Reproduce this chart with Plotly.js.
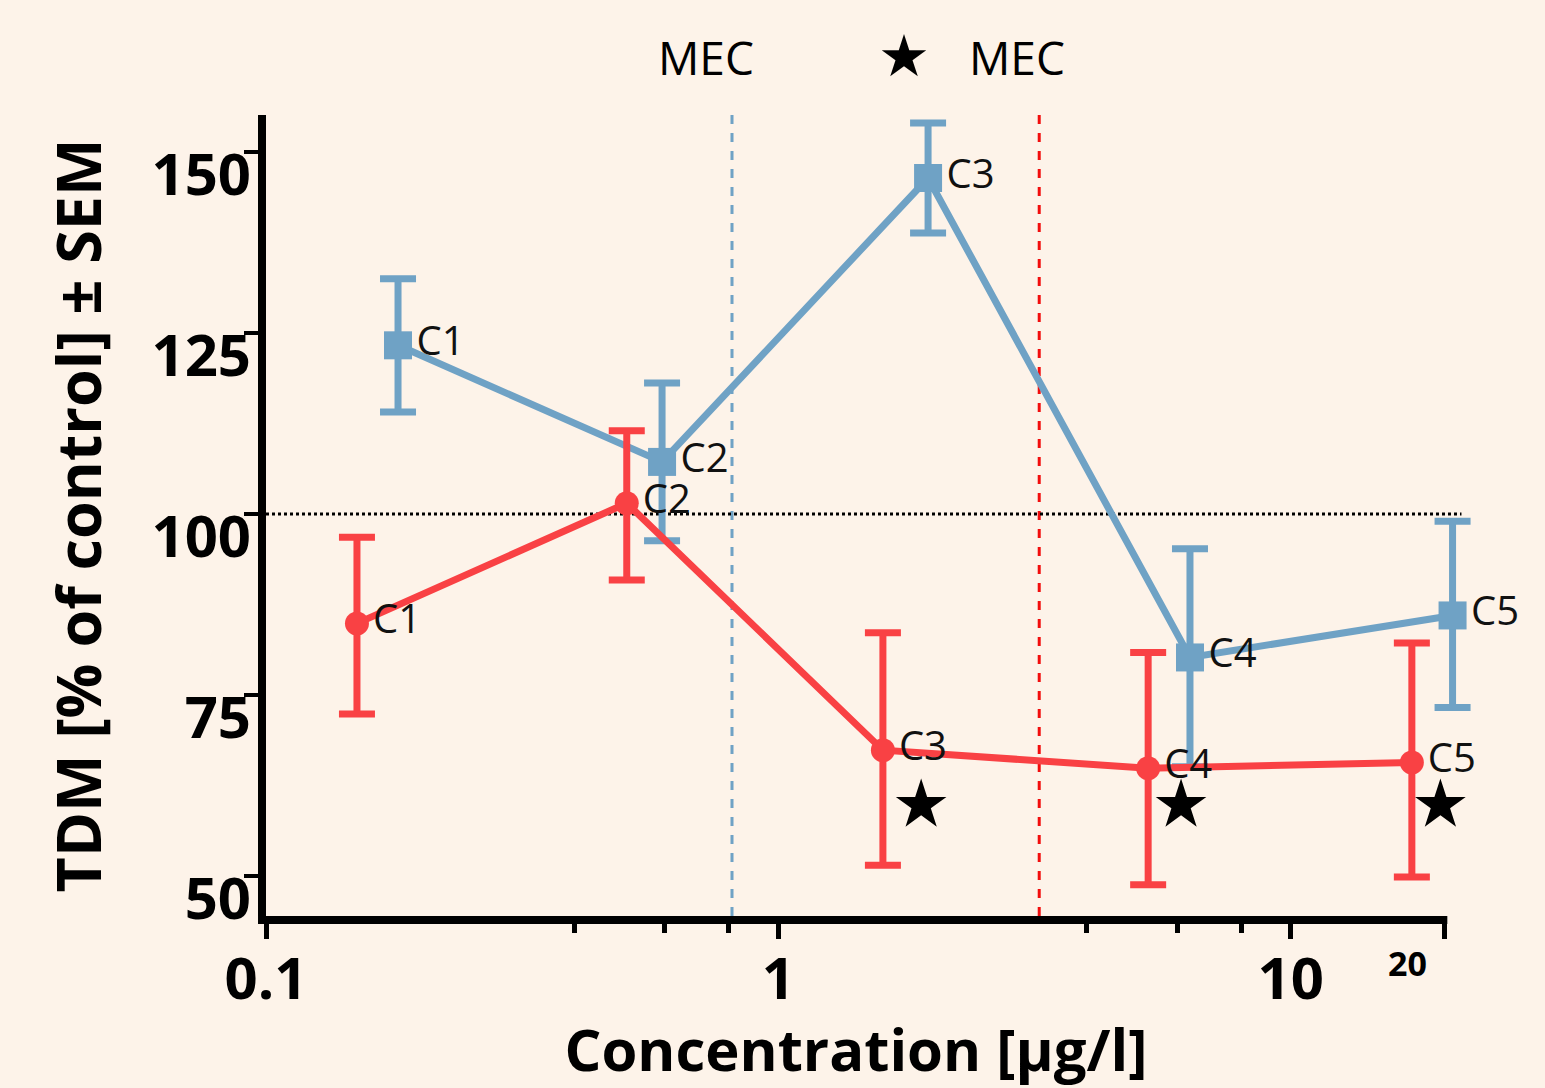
<!DOCTYPE html>
<html>
<head>
<meta charset="utf-8">
<script src="https://cdn.plot.ly/plotly-3.0.1.min.js"></script>
<style>html,body{margin:0;padding:0;background:#FDF3E9;}</style>
</head>
<body>
<div id="chart" style="width:1545px;height:1088px;"></div>
<script>
// ---- data ----
const labels = ["C1", "C2", "C3", "C4", "C5"];

const blueX = [0.181, 0.593, 1.96, 6.36, 20.7];
const blueY = [123.3, 107.2, 146.4, 80.2, 86.0];
const blueUpper = [132.5, 118.1, 154.0, 95.2, 99.0];
const blueLower = [114.1, 96.3, 138.8, 65.1, 73.3];

const redX = [0.1505, 0.506, 1.60, 5.27, 17.24];
const redY = [84.9, 101.5, 67.4, 64.9, 65.7];
const redUpper = [96.8, 111.5, 83.6, 80.9, 82.2];
const redLower = [72.4, 90.9, 51.5, 48.8, 49.9];

const starX = [1.90, 6.11, 19.6];
const starY = [59.8, 59.8, 59.8];

const mecBlue = 0.812;
const mecRed = 3.23;
const controlLevel = 100;

const yTicks = [50, 75, 100, 125, 150];
const yTickText = ["50", "75", "100", "125", "150"];
const xMajorTicks = [0.1, 1, 10, 20];
const xMajorText = ["0.1", "1", "10", ""];
const xMinorTicks = [0.4, 0.6, 0.8, 4, 6, 8];
const xAxisEnd = 20;   // the drawn x-axis line stops at 20

const BLUE = "#6FA2C5";
const RED = "#F94144";
const BG = "#FDF3E9";

function plus(v, u) { return u.map((x, i) => +(x - v[i]).toFixed(2)); }
function minus(v, l) { return l.map((x, i) => +(v[i] - x).toFixed(2)); }

const blue = {
  type: "scatter", mode: "lines+markers+text",
  x: blueX, y: blueY, text: labels, textposition: "middle right",
  textfont: {family: "Open Sans", size: 40, color: "#111"},
  line: {color: BLUE, width: 7},
  marker: {symbol: "square", size: 28, color: BLUE},
  error_y: {type: "data", array: plus(blueY, blueUpper), arrayminus: minus(blueY, blueLower),
            color: BLUE, thickness: 7, width: 18, visible: true},
  cliponaxis: false, hoverinfo: "none", showlegend: false
};
const red = {
  type: "scatter", mode: "lines+markers+text",
  x: redX, y: redY, text: labels, textposition: "middle right",
  textfont: {family: "Open Sans", size: 40, color: "#111"},
  line: {color: RED, width: 7},
  marker: {symbol: "circle", size: 24, color: RED},
  error_y: {type: "data", array: plus(redY, redUpper), arrayminus: minus(redY, redLower),
            color: RED, thickness: 7, width: 18, visible: true},
  cliponaxis: false, hoverinfo: "none", showlegend: false
};
const stars = {
  type: "scatter", mode: "markers",
  x: starX, y: starY, yaxis: "y2",
  marker: {symbol: "star", size: 38, color: "#000"},
  cliponaxis: false, hoverinfo: "none", showlegend: false
};

const Y_RANGE = [44.5, 155.1];
const X_RANGE = [-1, Math.log10(23)];
// tick labels sit just below their tick marks in the reference
const labelDrop = 3.15;
const axisEndFrac = (Math.log10(xAxisEnd) - X_RANGE[0]) / (X_RANGE[1] - X_RANGE[0]);

const layout = {
  width: 1545, height: 1088,
  margin: {l: 266, r: 69, t: 115, b: 172},
  paper_bgcolor: BG, plot_bgcolor: BG,
  showlegend: false,
  font: {family: "Open Sans", color: "#000"},
  xaxis: {
    type: "log", range: X_RANGE,
    showgrid: false, zeroline: false,
    showline: false,
    ticks: "outside", ticklen: 22, tickwidth: 5, tickcolor: "#000",
    tickmode: "array", tickvals: xMajorTicks, ticktext: xMajorText,
    tickfont: {family: "Open Sans", size: 58, color: "#000", weight: "bold"},
    ticklabelstandoff: -10,
    minor: {tickmode: "array", tickvals: xMinorTicks, ticks: "outside", ticklen: 16, tickwidth: 5, tickcolor: "#000", showgrid: false},
    title: {text: "<b>Concentration [µg/l]</b>&nbsp;&nbsp;", font: {family: "Open Sans", size: 58, color: "#000"}, standoff: 14}
  },
  yaxis: {
    range: Y_RANGE,
    showgrid: false, zeroline: false,
    showline: true, linecolor: "#000", linewidth: 8,
    ticks: "outside", ticklen: 14, tickwidth: 4, tickcolor: "#000",
    tickmode: "array", tickvals: yTicks,
    showticklabels: false
  },
  yaxis2: {
    overlaying: "y", anchor: "x", side: "left",
    range: Y_RANGE,
    showgrid: false, zeroline: false, showline: false, ticks: "",
    tickmode: "array", tickvals: yTicks.map(v => v - labelDrop), ticktext: yTickText,
    tickfont: {family: "Open Sans", size: 58, color: "#000", weight: "bold"},
    ticklabelstandoff: 14,
    title: {text: "<b>TDM [% of control] ± SEM</b>", font: {family: "Open Sans", size: 61, color: "#000"}, standoff: 30}
  },
  shapes: [
    {type: "line", xref: "x", yref: "paper", x0: mecBlue, x1: mecBlue, y0: 0, y1: 1,
     line: {color: BLUE, width: 3, dash: "dash"}, layer: "below"},
    {type: "line", xref: "x", yref: "paper", x0: mecRed, x1: mecRed, y0: 0, y1: 1,
     line: {color: "#F20D0D", width: 3, dash: "dash"}, layer: "below"},
    {type: "line", xref: "paper", yref: "y", x0: 0, x1: 0.988, y0: controlLevel, y1: controlLevel,
     line: {color: "#000", width: 3, dash: "dot"}, layer: "below"},
    // x-axis line, stopping at 20
    {type: "line", xref: "paper", yref: "paper", ysizemode: "pixel", yanchor: 0,
     x0: -0.0066, x1: axisEndFrac + 0.002, y0: -4, y1: -4,
     line: {color: "#000", width: 8}, layer: "above"}
  ],
  annotations: [
    {xref: "paper", yref: "paper", x: 0.3636, y: 1.072, text: "MEC", showarrow: false,
     font: {family: "Open Sans", size: 46, color: "#000"}, xanchor: "center", yanchor: "middle"},
    {xref: "paper", yref: "paper", x: 0.527, y: 1.074, text: "★", showarrow: false,
     font: {family: "DejaVu Sans", size: 58, color: "#000"}, xanchor: "center", yanchor: "middle"},
    {xref: "paper", yref: "paper", x: 0.6207, y: 1.072, text: "MEC", showarrow: false,
     font: {family: "Open Sans", size: 46, color: "#000"}, xanchor: "center", yanchor: "middle"},
    {xref: "paper", yref: "paper", x: 0.9438, y: -0.0587, text: "<b>20</b>", showarrow: false,
     font: {family: "Open Sans", size: 34, color: "#000"}, xanchor: "center", yanchor: "middle"}
  ]
};

Plotly.newPlot("chart", [blue, red, stars], layout, {staticPlot: true, displayModeBar: false});
</script>
</body>
</html>
